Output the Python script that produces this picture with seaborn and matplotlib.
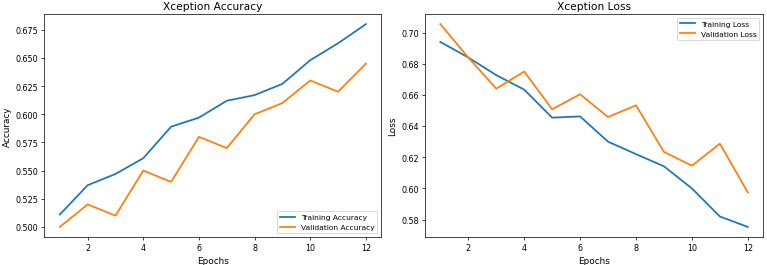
import matplotlib
matplotlib.use('Agg')
import matplotlib.pyplot as plt
import pandas as pd
import seaborn as sns

epochs = list(range(1, 13))
train_acc = [0.511, 0.537, 0.547, 0.561, 0.589, 0.597, 0.612, 0.617, 0.627, 0.648, 0.663, 0.680]
val_acc = [0.500, 0.520, 0.510, 0.550, 0.540, 0.580, 0.570, 0.600, 0.610, 0.630, 0.620, 0.645]
train_loss = [0.694, 0.684, 0.6727, 0.6634, 0.6454, 0.6462, 0.630, 0.622, 0.6142, 0.600, 0.582, 0.5753]
val_loss = [0.7054, 0.684, 0.664, 0.675, 0.6508, 0.6604, 0.6458, 0.6533, 0.6234, 0.6146, 0.6287, 0.5974]


def make_df(train, val, name):
    df = pd.DataFrame({'Epochs': epochs,
                       'Training ' + name: train,
                       'Validation ' + name: val})
    return df.melt(id_vars='Epochs', var_name='series', value_name=name)


acc_df = make_df(train_acc, val_acc, 'Accuracy')
loss_df = make_df(train_loss, val_loss, 'Loss')

fig, axes = plt.subplots(1, 2, figsize=(12, 4.16), dpi=63.92)
axes[0].set_position([0.058, 0.105, 0.439, 0.839])
axes[1].set_position([0.554, 0.105, 0.441, 0.839])

palette = ['#1f77b4', '#ff7f0e']

sns.lineplot(data=acc_df, x='Epochs', y='Accuracy', hue='series',
             palette=palette, linewidth=2, ax=axes[0])
axes[0].set_title('Xception Accuracy', fontsize=12)
axes[0].set_xlabel('Epochs', fontsize=10)
axes[0].set_ylabel('Accuracy', fontsize=10)
axes[0].legend(loc='lower right', fontsize=8.5)

sns.lineplot(data=loss_df, x='Epochs', y='Loss', hue='series',
             palette=palette, linewidth=2, ax=axes[1])
axes[1].set_title('Xception Loss', fontsize=12)
axes[1].set_xlabel('Epochs', fontsize=10)
axes[1].set_ylabel('Loss', fontsize=10)
axes[1].legend(loc='upper right', fontsize=8.5)

for ax in axes:
    ax.tick_params(labelsize=9)
    ax.set_xticks([2, 4, 6, 8, 10, 12])

plt.savefig('out.png', dpi=63.92)
